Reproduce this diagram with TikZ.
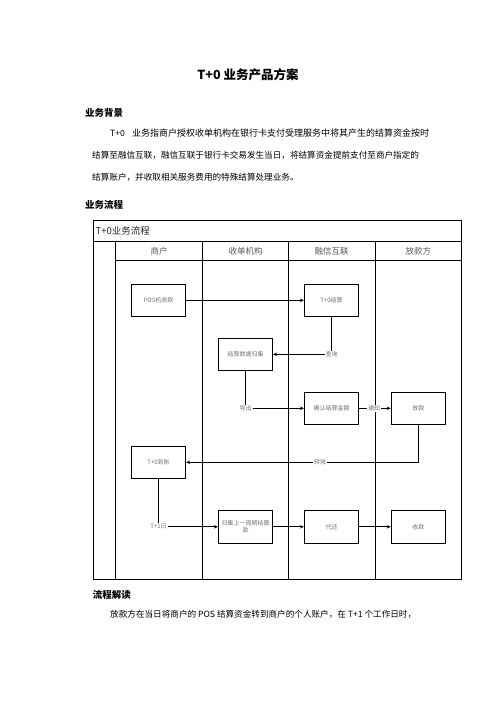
\documentclass[tikz,border=0pt]{standalone}
\usepackage{fontspec}
\setmainfont{Noto Sans CJK SC}
\usetikzlibrary{arrows.meta}
\begin{document}
\begin{tikzpicture}[x=1pt,y=-1pt,
  box/.style={draw, line width=0.8pt, minimum width=54.4pt, minimum height=32pt, inner sep=1pt,
    font=\fontsize{6}{7.5}\selectfont, text=black!55, align=center},
  lbl/.style={fill=white, inner sep=0.8pt, font=\fontsize{6}{7}\selectfont, text=black!55},
  flow/.style={line width=0.8pt, -{Stealth[length=4pt,width=3.5pt]}},
  plain/.style={line width=0.8pt},
  gridline/.style={line width=0.8pt},
  hdr/.style={font=\fontsize{8.5}{10}\selectfont, text=black!65},
  heading/.style={anchor=west, font=\fontsize{9.5}{11}\selectfont\bfseries, inner sep=0pt},
  para/.style={font=\fontsize{8.6}{10}\selectfont, inner sep=0pt}]
\useasboundingbox[fill=white] (0,0) rectangle (496,702);

% text outside the table
\node[font=\fontsize{12.5}{14}\selectfont\bfseries] (title) at (248,75) {T+0 业务产品方案};
\node[heading] (h1) at (85,113) {业务背景};
\node[para, anchor=west] (p1a) at (110,133) {T+0};
\node[para, anchor=west, font=\fontsize{9}{10}\selectfont] (p1b) at (132,133) {业务指商户授权收单机构在银行卡支付受理服务中将其产生的结算资金按时};
\node[para, anchor=west] (p2) at (92,155) {结算至融信互联，融信互联于银行卡交易发生当日，将结算资金提前支付至商户指定的};
\node[para, anchor=west] (p3) at (92,177.5) {结算账户，并收取相关服务费用的特殊结算处理业务。};
\node[heading] (h2) at (85,205) {业务流程};
\node[heading] (h3) at (92.7,595) {流程解读};
\node[para, anchor=west] (p4) at (110,614.5) {放款方在当日将商户的 POS 结算资金转到商户的个人账户，在 T+1 个工作日时，};

% table frame
\draw[gridline] (93,220) rectangle (461.7,579.7);
\draw[line width=1.4pt] (93,241.3) -- (461.7,241.3);
\draw[gridline] (115.5,260) -- (461.7,260);
\foreach \x in {115.5,202.5,288.5,375} \draw[gridline] (\x,241.3) -- (\x,579.7);
\node[anchor=west, inner sep=0pt, font=\fontsize{9.5}{11}\selectfont, text=black!85] (ttl) at (95.5,231) {T+0业务流程};
\node[hdr] (c1) at (159,251) {商户};
\node[hdr] (c2) at (245.5,251) {收单机构};
\node[hdr] (c3) at (331.7,251) {融信互联};
\node[hdr] (c4) at (418.3,251) {放款方};

% boxes
\node[box] (pos)  at (158.5,300.3) {POS机收款};
\node[box] (t0js) at (331.5,300.3) {T+0结算};
\node[box] (gj)   at (245.5,354.3) {结算数据归集};
\node[box] (qr)   at (331.5,408.3) {确认结算金额};
\node[box] (fk)   at (418.3,408.3) {放款};
\node[box] (dz)   at (158.5,462.3) {T+0到账};
\node[box, minimum height=33pt] (gj2) at (245.5,526.8) {归集上一周期结算\\款};
\node[box, minimum height=33pt] (dh)  at (331.5,526.8) {代还};
\node[box, minimum height=33pt] (sk)  at (418.3,526.8) {收款};

% labels
\node[lbl] (cx) at (331.5,354.3) {查询};
\node[lbl] (dc) at (245.5,408.3) {导出};
\node[lbl] (tz) at (374,408.3) {通知};
\node[lbl] (zz) at (320,462.3) {转账};
\node[lbl] (t1) at (158.5,526.8) {T+1日};
\coordinate (k1) at (418.3,462.3);

% connectors
\draw[flow] (pos) -- (t0js);
\draw[plain] (t0js) -- (cx);
\draw[flow] (cx) -- (gj);
\draw[plain] (gj) -- (dc);
\draw[flow] (dc) -- (qr);
\draw[plain] (qr) -- (tz);
\draw[flow] (tz) -- (fk);
\draw[plain] (fk) -- (k1) -- (zz);
\draw[flow] (zz) -- (dz);
\draw[plain] (dz) -- (t1);
\draw[flow] (t1) -- (gj2);
\draw[flow] (gj2) -- (dh);
\draw[flow] (dh) -- (sk);
\end{tikzpicture}
\end{document}
